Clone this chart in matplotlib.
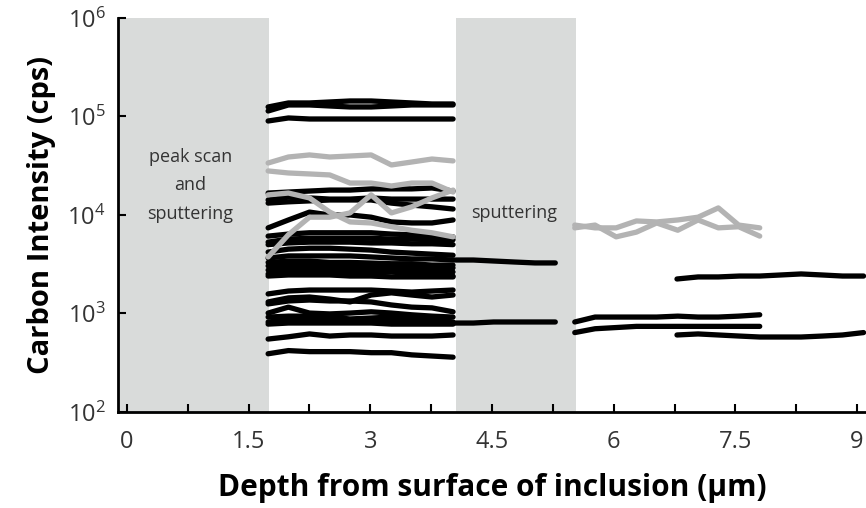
import numpy as np
import matplotlib
matplotlib.use('Agg')
import matplotlib.pyplot as plt

plt.rcParams['font.family'] = ['Open Sans', 'DejaVu Sans']

# depth points (um)
depth_a = [1.74, 1.99, 2.25, 2.50, 2.75, 3.01, 3.26, 3.51, 3.76, 4.02]
depth_ext = depth_a + [4.27, 4.52, 4.78, 5.03, 5.28]
depth_b = [5.52, 5.77, 6.03, 6.28, 6.53, 6.79, 7.04, 7.29, 7.54, 7.80]
depth_c = [6.78, 7.04, 7.29, 7.55, 7.80, 8.06, 8.31, 8.57, 8.82, 9.08]

# carbon intensity (cps), black profiles between the two sputtering zones
black_a = [
    [124900, 137200, 137200, 140400, 143700, 143700, 140400, 137200, 134000, 134000],
    [113700, 130900, 130900, 127800, 124900, 124900, 127800, 130900, 130900, 130900],
    [90000, 96600, 94300, 94300, 94300, 94300, 94300, 94300, 94300, 94300],
    [16700, 17100, 17500, 17900, 17900, 18400, 18400, 18400, 18800, 17500],
    [14200, 15200, 14900, 14500, 14500, 14900, 14500, 14500, 14500, 14500],
    [13200, 13600, 13900, 14200, 14200, 14200, 13200, 12600, 12100, 11500],
    [7400, 8900, 10700, 10000, 10000, 9500, 8500, 8300, 8300, 8900],
    [6100, 6400, 6600, 6600, 6600, 6600, 6400, 6300, 6100, 6000],
    [5300, 5700, 5800, 5800, 5800, 5800, 5700, 5700, 5600, 5600],
    [5000, 5200, 5300, 5300, 5300, 5200, 5200, 5100, 5100, 5000],
    [4200, 4500, 4600, 4600, 4500, 4400, 4200, 4100, 4000, 3900],
    [3300, 3400, 3400, 3300, 3300, 3250, 3200, 3200, 3100, 3100],
    [3040, 3110, 3110, 3040, 3040, 2970, 2970, 2900, 2900, 2900],
    [2760, 2830, 2900, 2900, 2830, 2760, 2700, 2640, 2640, 2640],
    [2520, 2580, 2640, 2640, 2580, 2580, 2640, 2520, 2400, 2400],
    [2400, 2460, 2460, 2460, 2400, 2400, 2350, 2350, 2350, 2350],
    [1580, 1690, 1730, 1730, 1730, 1730, 1690, 1650, 1690, 1730],
    [1310, 1440, 1470, 1400, 1310, 1540, 1620, 1540, 1470, 1540],
    [1250, 1340, 1370, 1340, 1340, 1310, 1220, 1160, 1140, 1040],
    [1010, 1160, 1010, 990, 1010, 1040, 1010, 970, 940, 920],
    [920, 940, 940, 920, 880, 900, 920, 900, 880, 820],
    [780, 800, 800, 800, 800, 800, 780, 780, 780, 780],
    [550, 580, 620, 590, 605, 605, 590, 590, 590, 605],
    [390, 420, 410, 410, 410, 400, 400, 380, 370, 360],
]
# profiles that run on into the second sputtering zone
black_ext = [
    [3660, 3840, 3840, 3840, 3840, 3750, 3660, 3580, 3580, 3490, 3490, 3410, 3330, 3260, 3260],
    [820, 860, 880, 860, 820, 840, 840, 860, 840, 800, 800, 820, 820, 820, 820],
]
gray_a = [
    [33700, 38800, 40700, 38800, 39700, 40700, 32200, 34500, 37000, 35400],
    [28000, 26700, 26100, 25500, 21100, 21100, 19700, 21100, 21100, 17100],
    [16000, 16700, 14900, 10700, 8500, 8300, 7600, 7000, 6600, 6000],
    [3750, 6300, 9500, 9500, 10500, 16000, 10500, 12100, 14900, 17900],
]
black_b = [
    [820, 920, 920, 920, 920, 940, 920, 920, 940, 970],
    [640, 700, 720, 740, 740, 740, 740, 740, 740, 740],
]
gray_b = [
    [7900, 7400, 7400, 8700, 8500, 8900, 9500, 11800, 7900, 7400],
    [7400, 7900, 6000, 6700, 8300, 7000, 8900, 7400, 7600, 6100],
]
black_c = [
    [2240, 2350, 2350, 2400, 2400, 2460, 2520, 2460, 2400, 2400],
    [605, 620, 605, 590, 577, 577, 577, 590, 605, 640],
]

band_1 = (-0.11, 1.75)
band_2 = (4.05, 5.53)

fig = plt.figure(figsize=(8.66, 5.08), dpi=100)
ax = fig.add_axes([0.1363, 0.189, 0.8637, 0.7756])

ax.axvspan(band_1[0], band_1[1], color='#d9dbda', lw=0, zorder=0)
ax.axvspan(band_2[0], band_2[1], color='#d9dbda', lw=0, zorder=0)

lw = 3.8
for v in black_a:
    ax.plot(depth_a, v, color='black', lw=lw, solid_capstyle='round', zorder=2)
for v in black_ext:
    ax.plot(depth_ext, v, color='black', lw=lw, solid_capstyle='round', zorder=2)
for v in black_b:
    ax.plot(depth_b, v, color='black', lw=lw, solid_capstyle='round', zorder=2)
for v in black_c:
    ax.plot(depth_c, v, color='black', lw=lw, solid_capstyle='round', zorder=2)
for v in gray_a:
    ax.plot(depth_a, v, color='#b3b3b3', lw=lw, solid_capstyle='round', zorder=3)
for v in gray_b:
    ax.plot(depth_b, v, color='#b3b3b3', lw=lw, solid_capstyle='round', zorder=3)

ax.set_yscale('log')
ax.set_ylim(100, 1e6)
ax.set_xlim(-0.11, 9.11)

ax.set_yticks([1e2, 1e3, 1e4, 1e5, 1e6])
ax.set_yticklabels([r'$\mathregular{10^{2}}$', r'$\mathregular{10^{3}}$', r'$\mathregular{10^{4}}$',
                    r'$\mathregular{10^{5}}$', r'$\mathregular{10^{6}}$'])
ax.yaxis.set_minor_locator(matplotlib.ticker.NullLocator())
ax.set_xticks([0.75, 2.25, 3.75, 5.25, 6.75, 8.25], minor=True)
ax.set_xticks([0, 1.5, 3, 4.5, 6, 7.5, 9])
ax.set_xticklabels(['0', '1.5', '3', '4.5', '6', '7.5', '9'])

ax.tick_params(axis='both', which='both', direction='in', length=6, width=1.5,
               labelsize=17, labelcolor='#333333', pad=9)
ax.tick_params(axis='x', which='both', pad=13)

for s in ['top', 'right']:
    ax.spines[s].set_visible(False)
for s in ['left', 'bottom']:
    ax.spines[s].set_linewidth(2)

ax.set_xlabel('Depth from surface of inclusion (\u00b5m)', fontsize=21.5, fontweight='bold', labelpad=14)
ax.set_ylabel('Carbon Intensity (cps)', fontsize=21, fontweight='bold', labelpad=8)

ax.text(0.78, 2.0e4, 'peak scan\nand\nsputtering', ha='center', va='center',
        fontsize=13, color='#333333', linespacing=1.75)
ax.text(4.77, 1.05e4, 'sputtering', ha='center', va='center', fontsize=13, color='#333333')

plt.savefig('out.png', dpi=100)
